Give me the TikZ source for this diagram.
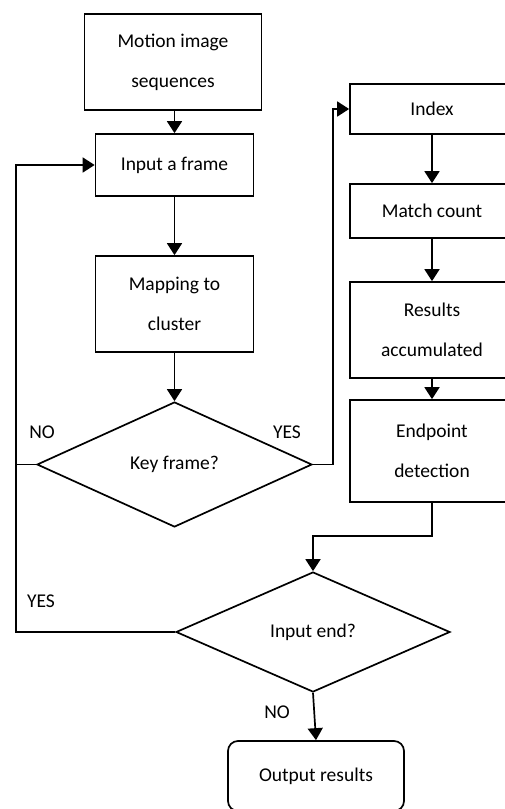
\documentclass[tikz,border=0pt]{standalone}
\usepackage{fontspec}
\setmainfont{Carlito}
\usetikzlibrary{shapes.geometric,arrows.meta}
\begin{document}
\begin{tikzpicture}[x=1pt,y=-1pt,
  every node/.style={font=\fontsize{19.5}{40}\selectfont},
  box/.style={draw,line width=1.7pt,rectangle,inner sep=0pt,align=center},
  dec/.style={draw,line width=1.7pt,diamond,inner sep=0pt,align=center},
  lbl/.style={inner sep=0pt},
  conn/.style={line width=1.7pt},
  arr/.style={conn,-{Triangle[length=12pt,width=15pt]}}]
\useasboundingbox (0,0) rectangle (505,809);
\clip (0,0) rectangle (505,809);
\fill[white] (0,0) rectangle (505,809);
% left column
\node[box,minimum width=177pt,minimum height=96pt] (motion) at (173,62) {Motion image\\sequences};
\node[box,minimum width=158pt,minimum height=62pt] (input) at (174.5,165) {Input a frame};
\node[box,minimum width=158pt,minimum height=96pt] (map) at (174.5,304) {Mapping to\\cluster};
\node[dec,minimum width=275pt,minimum height=125pt] (key) at (174.5,464.5) {Key frame?};
% right column
\node[box,minimum width=164pt,minimum height=50pt] (index) at (432,109) {Index};
\node[box,minimum width=164pt,minimum height=54pt] (match) at (432,211) {Match count};
\node[box,minimum width=164pt,minimum height=96pt] (res) at (432,330) {Results\\accumulated};
\node[box,minimum width=164pt,minimum height=102pt] (endp) at (432,451) {Endpoint\\detection};
% bottom
\node[dec,minimum width=274pt,minimum height=120pt] (inend) at (313,632) {Input end?};
\node[box,rounded corners=10pt,minimum width=176pt,minimum height=70pt] (out) at (316,776) {Output results};
% labels
\node[lbl] (lno1) at (42,432) {NO};
\node[lbl] (lyes1) at (287,432) {YES};
\node[lbl] (lyes2) at (41,601) {YES};
\node[lbl] (lno2) at (277,712) {NO};
% helper coordinates
\coordinate (lx) at (16,165);
\coordinate (rx) at (333,109);
\coordinate (mid) at (432,536);
% connectors
\draw[arr] (motion.south -| input.north) -- (input.north);
\draw[arr] (input.south) -- (map.north);
\draw[arr] (map.south) -- (key.north);
\draw[conn] (key.west) -- (key.west -| lx);
\draw[arr] (inend.west) -| (lx) -- (input.west);
\draw[arr] (key.east) -| (rx) -- (index.west);
\draw[arr] (index.south) -- (match.north);
\draw[arr] (match.south) -- (res.north);
\draw[arr] (res.south) -- (endp.north);
\draw[arr] (endp.south) -- (mid) -| (inend.north);
\draw[arr] (inend.south) -- (out.north);
\end{tikzpicture}
\end{document}
